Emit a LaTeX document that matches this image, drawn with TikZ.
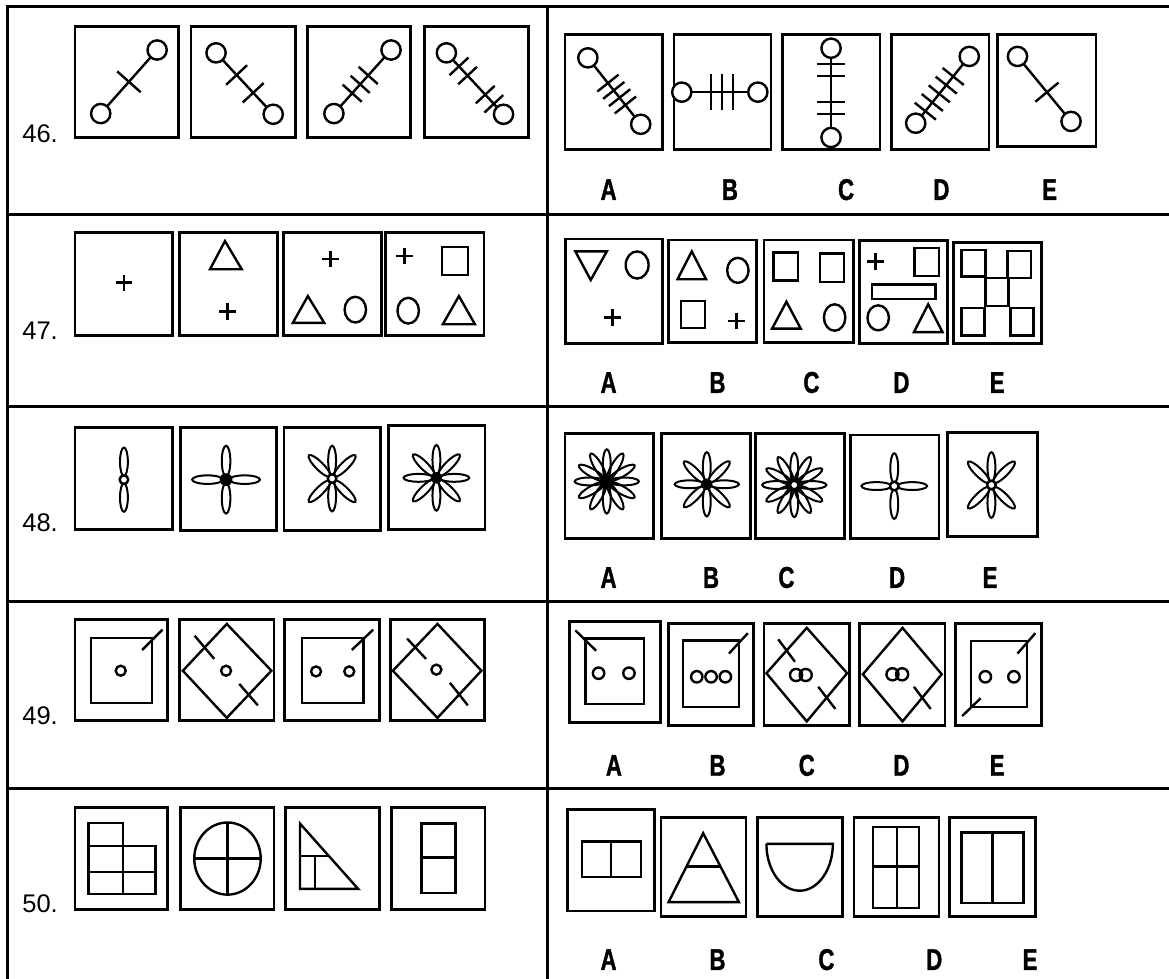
\documentclass[tikz,border=0pt]{standalone}
\usepackage{fontspec}
\setmainfont{Liberation Sans}
\newfontfamily\labfont{Liberation Sans}
\newfontfamily\letfont[FakeStretch=0.74,FakeBold=1.2]{Liberation Sans}
\usetikzlibrary{calc}
\tikzset{
  tbl/.style={line width=3pt},
  fbox/.style={line width=2.8pt},
  fig/.style={line width=2.4pt},
  plusline/.style={line width=2.8pt},
  pet/.style={line width=2pt},
  qlab/.style={anchor=base west, inner sep=0pt, font=\labfont\fontsize{25.5}{25.5}\selectfont},
  alab/.style={anchor=base, inner sep=0pt, font=\letfont\bfseries\fontsize{30}{30}\selectfont},
}
% stick: x1 y1 x2 y2 {ticks t} half-length
\newcommand\stk[6]{%
  \pgfmathsetmacro\stkdx{#3-#1}\pgfmathsetmacro\stkdy{#4-#2}%
  \pgfmathsetmacro\stkL{100*veclen(\stkdx/100,\stkdy/100)}%
  \pgfmathsetmacro\stkpx{-\stkdy/\stkL*#6}\pgfmathsetmacro\stkpy{\stkdx/\stkL*#6}%
  \draw[fig] (#1,#2) -- (#3,#4);
  \foreach \t in {#5}{\draw[fig] ({#1+\t*\stkdx+\stkpx},{#2+\t*\stkdy+\stkpy}) -- ({#1+\t*\stkdx-\stkpx},{#2+\t*\stkdy-\stkpy});}
  \draw[fig,fill=white] (#1,#2) circle (27) (#3,#4) circle (27);
}
\newcommand\pls[3]{\draw[plusline] ({#1-#3},#2) -- ({#1+#3},#2) (#1,{#2-#3}) -- (#1,{#2+#3});}
% flower: cx cy {angles} d a b
\newcommand\flw[6]{%
  \foreach \ang in {#3}{\draw[pet, rotate around={\ang:(#1,#2)}] ({#1+#4},#2) ellipse [x radius=#5, y radius=#6];}
}
\newcommand\cb[3]{\fill (#1,#2) circle (#3);}
\newcommand\cw[3]{\draw[fig,fill=white] (#1,#2) circle (#3);}
\begin{document}
\begin{tikzpicture}[x=1pt,y=-1pt]
\useasboundingbox (0,0) rectangle (1169,979);
% ---------- table ----------
\draw[tbl] (7.9,979) -- (7.9,6.4) -- (1169,6.4);
\draw[tbl] (547,6.4) -- (547,979);
\foreach \yy in {214.3,406.4,601.8,788.6} \draw[tbl] (7.9,\yy) -- (1169,\yy);

% ---------- 46 question ----------
\begin{scope}[scale=1/2.8]
  \node[qlab] (q46) at (62,398) {46.};
  \draw[fbox] (210,75) rectangle (500,385);
  \draw[fbox] (535,75) rectangle (827,385);
  \draw[fbox] (862,75) rectangle (1150,385);
  \draw[fbox] (1188,75) rectangle (1480,385);
  \stk{282}{318}{440}{140}{0.5}{44}
  \stk{605}{148}{765}{320}{0.36,0.65}{40}
  \stk{935}{318}{1095}{140}{0.32,0.46,0.6}{36}
  \stk{1250}{148}{1410}{320}{0.22,0.37,0.68,0.83}{36}
\end{scope}
% ---------- 46 answers ----------
\begin{scope}[shift={(555,0)},scale=1/2.8]
  \draw[fbox] (28,97) rectangle (300,418);
  \draw[fbox] (333,97) rectangle (605,418);
  \draw[fbox] (638,97) rectangle (910,418);
  \draw[fbox] (943,97) rectangle (1215,418);
  \draw[fbox] (1240,97) rectangle (1515,410);
  \stk{92}{162}{240}{348}{0.38,0.49,0.6,0.71}{38}
  \stk{355}{258}{568}{258}{0.385,0.53,0.67}{50}
  \stk{773}{135}{773}{385}{0.18,0.31,0.6,0.74}{40}
  \stk{1010}{345}{1160}{158}{0.18,0.31,0.44,0.57,0.7}{38}
  \stk{1295}{158}{1445}{340}{0.55}{42}
  \node[alab] (a46) at (150,560) {A};
  \node[alab] (b46) at (490,560) {B};
  \node[alab] (c46) at (815,560) {C};
  \node[alab] (d46) at (1082,560) {D};
  \node[alab] (e46) at (1385,560) {E};
\end{scope}

% ---------- 47 question ----------
\begin{scope}[shift={(0,190)},scale=1/2.8]
  \node[qlab] (q47) at (62,420) {47.};
  \draw[fbox] (210,120) rectangle (483,408);
  \draw[fbox] (503,120) rectangle (777,408);
  \draw[fbox] (793,120) rectangle (1068,408);
  \draw[fbox] (1080,120) rectangle (1355,408);
  \pls{347}{260}{23}
  \draw[fig] (630,143) -- (588,222) -- (677,222) -- cycle; \pls{637}{340}{23}
  \pls{925}{193}{23}
  \draw[fig] (862,297) -- (820,372) -- (908,372) -- cycle;
  \draw[fig] (995,335) ellipse [x radius=30, y radius=36];
  \pls{1133}{185}{23}
  \draw[fig] (1237,160) rectangle (1310,238);
  \draw[fig] (1143,338) ellipse [x radius=30, y radius=36];
  \draw[fig] (1285,297) -- (1240,376) -- (1330,376) -- cycle;
\end{scope}
% ---------- 47 answers ----------
\begin{scope}[shift={(555,190)},scale=1/2.8]
  \draw[fbox] (30,137) rectangle (302,430);
  \draw[fbox] (317,140) rectangle (565,428);
  \draw[fbox] (585,140) rectangle (835,428);
  \draw[fbox] (852,142) rectangle (1100,430);
  \draw[fbox] (1115,147) rectangle (1363,430);
  % A
  \draw[fig] (57,172) -- (145,172) -- (100,252) -- cycle;
  \draw[fig] (230,210) ellipse [x radius=32, y radius=38];
  \pls{160}{358}{24}
  % B
  \draw[fig] (383,172) -- (343,250) -- (423,250) -- cycle;
  \draw[fig] (512,225) ellipse [x radius=30, y radius=35];
  \draw[fig] (353,310) rectangle (420,387);
  \pls{508}{367}{23}
  % C
  \draw[fig] (612,175) rectangle (680,253);
  \draw[fig] (742,178) rectangle (810,257);
  \draw[fig] (648,313) -- (608,388) -- (688,388) -- cycle;
  \draw[fig] (783,357) ellipse [x radius=30, y radius=37];
  % D
  \pls{898}{200}{23}
  \draw[fig] (1007,163) rectangle (1075,240);
  \draw[fig] (887,265) rectangle (1065,305);
  \draw[fig] (905,358) ellipse [x radius=30, y radius=35];
  \draw[fig] (1045,320) -- (1005,398) -- (1085,398) -- cycle;
  % E
  \draw[fig] (1138,168) rectangle (1205,242);
  \draw[fig] (1267,170) rectangle (1333,247);
  \draw[fig] (1205,247) rectangle (1270,325);
  \draw[fig] (1138,330) rectangle (1203,407);
  \draw[fig] (1275,330) rectangle (1340,407);
  \node[alab] (a47) at (150,568) {A};
  \node[alab] (b47) at (455,568) {B};
  \node[alab] (c47) at (718,568) {C};
  \node[alab] (d47) at (970,568) {D};
  \node[alab] (e47) at (1238,568) {E};
\end{scope}

% ---------- 48 question ----------
\begin{scope}[shift={(0,385)},scale=1/2.8]
  \node[qlab] (q48) at (62,410) {48.};
  \draw[fbox] (210,118) rectangle (483,405);
  \draw[fbox] (505,118) rectangle (775,408);
  \draw[fbox] (795,118) rectangle (1065,408);
  \draw[fbox] (1087,113) rectangle (1358,405);
  \flw{347}{265}{90,270}{50}{40}{11} \cw{347}{265}{12}
  \flw{633}{265}{0,90,180,270}{52}{43}{12} \cb{633}{265}{18}
  \flw{930}{262}{90,270,45,135,225,315}{50}{42}{11} \cw{930}{262}{12}
  \flw{1222}{260}{0,45,90,135,180,225,270,315}{50}{42}{11} \cb{1222}{260}{16}
\end{scope}
% ---------- 48 answers ----------
\begin{scope}[shift={(555,385)},scale=1/2.8]
  \draw[fbox] (28,135) rectangle (275,430);
  \draw[fbox] (298,135) rectangle (548,430);
  \draw[fbox] (562,135) rectangle (810,430);
  \draw[fbox] (827,140) rectangle (1075,430);
  \draw[fbox] (1098,133) rectangle (1350,425);
  \flw{145}{270}{0,30,60,90,120,150,180,210,240,270,300,330}{48}{42}{11} \cb{145}{270}{16}
  \flw{425}{278}{0,45,90,135,180,225,270,315}{48}{42}{11} \cb{425}{278}{16}
  \flw{670}{280}{0,30,60,90,120,150,180,210,240,270,300,330}{48}{42}{11} \cw{670}{280}{12}
  \flw{950}{283}{0,90,180,270}{50}{42}{11} \cw{950}{283}{12}
  \flw{1222}{280}{90,270,45,135,225,315}{50}{42}{11} \cw{1222}{280}{12}
  \node[alab] (a48) at (150,568) {A};
  \node[alab] (b48) at (437,568) {B};
  \node[alab] (c48) at (648,568) {C};
  \node[alab] (d48) at (958,568) {D};
  \node[alab] (e48) at (1218,568) {E};
\end{scope}

% ---------- 49 question ----------
\begin{scope}[shift={(0,575)},scale=1/2.8]
  \node[qlab] (q49) at (62,420) {49.};
  \draw[fbox] (210,125) rectangle (470,408);
  \draw[fbox] (503,125) rectangle (767,408);
  \draw[fbox] (797,125) rectangle (1062,408);
  \draw[fbox] (1093,125) rectangle (1357,408);
  \draw[fig] (255,177) rectangle (425,358);
  \draw[fig] (338,268) circle (14);
  \draw[fig] (398,210) -- (455,153);
  \draw[fig] (635,137) -- (760,268) -- (635,400) -- (512,268) -- cycle;
  \draw[fig] (633,268) circle (14);
  \draw[fig] (545,170) -- (600,235) (670,305) -- (722,365);
  \draw[fig] (845,177) rectangle (1018,358);
  \draw[fig] (885,270) circle (14) (978,270) circle (14);
  \draw[fig] (985,210) -- (1045,153);
  \draw[fig] (1225,137) -- (1348,268) -- (1225,400) -- (1100,268) -- cycle;
  \draw[fig] (1222,265) circle (14);
  \draw[fig] (1140,178) -- (1193,235) (1260,302) -- (1310,365);
\end{scope}
% ---------- 49 answers ----------
\begin{scope}[shift={(555,575)},scale=1/2.8]
  \draw[fbox] (40,130) rectangle (295,412);
  \draw[fbox] (317,135) rectangle (555,422);
  \draw[fbox] (585,135) rectangle (825,422);
  \draw[fbox] (852,135) rectangle (1092,422);
  \draw[fbox] (1122,135) rectangle (1362,422);
  % A
  \draw[fig] (85,178) rectangle (250,362);
  \draw[fig] (122,275) circle (16) (207,275) circle (16);
  \draw[fig] (57,155) -- (115,212);
  % B
  \draw[fig] (358,183) rectangle (515,370);
  \draw[fig] (397,285) circle (16) (437,285) circle (16) (477,285) circle (16);
  \draw[fig] (487,220) -- (540,163);
  % C
  \draw[fig] (705,148) -- (818,275) -- (705,410) -- (592,275) -- cycle;
  \draw[fig] (675,280) circle (17) (702,280) circle (17);
  \draw[fig] (625,180) -- (672,243) (737,313) -- (785,375);
  % D
  \draw[fig] (973,148) -- (1083,278) -- (973,410) -- (862,278) -- cycle;
  \draw[fig] (945,278) circle (17) (972,278) circle (17);
  \draw[fig] (1005,313) -- (1052,375);
  % E
  \draw[fig] (1165,185) rectangle (1322,370);
  \draw[fig] (1205,285) circle (16) (1285,285) circle (16);
  \draw[fig] (1295,220) -- (1345,163) (1140,395) -- (1192,345);
  \node[alab] (a49) at (165,562) {A};
  \node[alab] (b49) at (455,562) {B};
  \node[alab] (c49) at (705,562) {C};
  \node[alab] (d49) at (970,562) {D};
  \node[alab] (e49) at (1238,562) {E};
\end{scope}

% ---------- 50 question ----------
\begin{scope}[shift={(0,770)},scale=1/2.8]
  \node[qlab] (q50) at (62,400) {50.};
  \draw[fbox] (210,105) rectangle (470,390);
  \draw[fbox] (505,105) rectangle (767,390);
  \draw[fbox] (800,105) rectangle (1063,390);
  \draw[fbox] (1097,105) rectangle (1358,390);
  \draw[fig] (248,213) -- (248,148) -- (345,148) -- (345,348);
  \draw[fig] (248,213) rectangle (435,348);
  \draw[fig] (248,285) -- (435,285);
  \draw[fig] (637,248) ellipse [x radius=93, y radius=101];
  \draw[fig] (544,248) -- (730,248) (637,147) -- (637,349);
  \draw[fig] (840,150) -- (840,333) -- (1003,333) -- cycle;
  \draw[fig] (840,240) -- (920,240) (882,240) -- (882,333);
  \draw[fig] (1180,150) rectangle (1275,345);
  \draw[fig] (1180,245) -- (1275,245);
\end{scope}
% ---------- 50 answers ----------
\begin{scope}[shift={(555,770)},scale=1/2.8]
  \draw[fbox] (35,110) rectangle (278,395);
  \draw[fbox] (297,133) rectangle (535,410);
  \draw[fbox] (566,133) rectangle (805,410);
  \draw[fbox] (837,133) rectangle (1075,410);
  \draw[fbox] (1105,133) rectangle (1345,410);
  \draw[fig] (75,200) rectangle (240,300);
  \draw[fig] (157,200) -- (157,300);
  \draw[fig] (415,177) -- (318,370) -- (515,370) -- cycle;
  \draw[fig] (368,270) -- (463,270);
  \draw[fig] (592,207) -- (778,207) arc [start angle=0, end angle=180, x radius=93, y radius=131];
  \draw[fig] (890,160) rectangle (1020,387);
  \draw[fig] (957,160) -- (957,387) (890,270) -- (1020,270);
  \draw[fig] (1138,175) rectangle (1312,373);
  \draw[fig] (1225,175) -- (1225,373);
  \node[alab] (a50) at (150,560) {A};
  \node[alab] (b50) at (455,560) {B};
  \node[alab] (c50) at (760,560) {C};
  \node[alab] (d50) at (1062,560) {D};
  \node[alab] (e50) at (1330,560) {E};
\end{scope}
\end{tikzpicture}
\end{document}
